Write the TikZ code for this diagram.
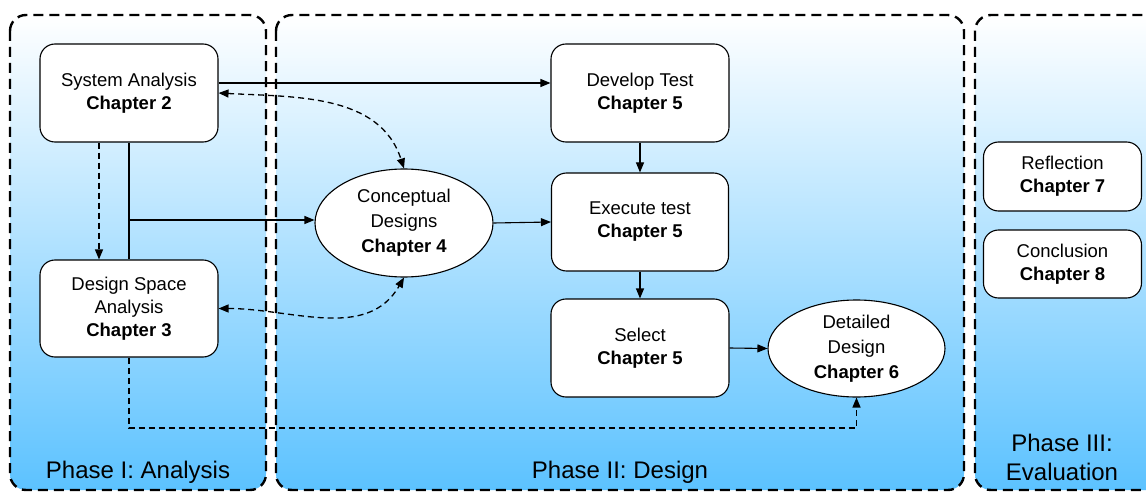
\documentclass[tikz,border=0pt]{standalone}
\usepackage{fontspec}
\setmainfont{Liberation Sans}
\usetikzlibrary{arrows.meta,shapes.geometric,calc}
\definecolor{bluebot}{RGB}{92,194,255}
\definecolor{bluemid}{RGB}{200,232,253}
\tikzset{
  phase/.style={draw=black, line width=2.4pt, dash pattern=on 10pt off 6pt, rounded corners=16pt},
  phasefill/.style={top color=white, middle color=bluemid, bottom color=bluebot, rounded corners=16pt},
  box/.style={draw=black, fill=white, line width=1.1pt, rounded corners=15pt, inner sep=0pt, align=center, font=\fontsize{18.5}{23}\selectfont},
  ell/.style={draw=black, fill=white, line width=1.1pt, ellipse, inner sep=0pt, align=center, font=\fontsize{18.5}{25}\selectfont},
  arr/.style={line width=1.1pt, -{Triangle[length=10pt,width=8pt]}},
  conn/.style={line width=1.1pt},
  darr/.style={line width=1.3pt, dash pattern=on 6pt off 4pt, -{Triangle[length=10pt,width=8pt]}},
  dboth/.style={line width=1.3pt, dash pattern=on 6pt off 4pt, {Triangle[length=10pt,width=8pt]}-{Triangle[length=10pt,width=8pt]}},
  phaselabel/.style={inner sep=0pt, align=center, font=\fontsize{24}{29}\selectfont}
}
\begin{document}
\begin{tikzpicture}[x=1pt,y=-1pt]
\clip (0,0) rectangle (1146,492);
\fill[white] (0,0) rectangle (1146,492);
% phases
\path[phasefill] (10,15) rectangle (266,490);
\draw[phase] (10,15) rectangle (266,490);
\path[phasefill] (276,15) rectangle (964,490);
\draw[phase] (276,15) rectangle (964,490);
\path[phasefill] (975,15) rectangle (1170,490);
\draw[phase] (975,15) rectangle (1170,490);

\node[phaselabel] (p1) at (138,472) {Phase I: Analysis};
\node[phaselabel] (p2) at (620,472) {Phase II: Design};
\node[phaselabel] (p3) at (1062,457) {Phase III:\\Evaluation};

% nodes
\node[box, minimum width=178pt, minimum height=98pt] (sa) at (129,93) {System Analysis\\\textbf{Chapter 2}};
\node[box, minimum width=178pt, minimum height=97pt] (dsa) at (129,308.5) {Design Space\\Analysis\\\textbf{Chapter 3}};
\node[box, minimum width=178pt, minimum height=98pt] (dev) at (640,93) {Develop Test\\\textbf{Chapter 5}};
\node[box, minimum width=177pt, minimum height=98pt] (exe) at (640,222) {Execute test\\\textbf{Chapter 5}};
\node[box, minimum width=178pt, minimum height=98pt] (sel) at (640,348) {Select\\\textbf{Chapter 5}};
\node[ell, minimum width=178pt, minimum height=108pt] (conc) at (404,223) {Conceptual\\Designs\\\textbf{Chapter 4}};
\node[ell, minimum width=177pt, minimum height=97pt] (det) at (856.5,348.5) {Detailed\\Design\\\textbf{Chapter 6}};
\node[box, minimum width=158pt, minimum height=69pt] (refl) at (1062.5,176.5) {Reflection\\\textbf{Chapter 7}};
\node[box, minimum width=158pt, minimum height=68pt] (concl) at (1062.5,264) {Conclusion\\\textbf{Chapter 8}};

% connectors
\draw[arr] ([yshift=10pt]sa.east) -- ([yshift=10pt]dev.west);
\draw[dboth] (sa.east) to[out=-3, in=108] (conc.north);
\draw[darr] ([xshift=-30pt]sa.south) -- ([xshift=-30pt]dsa.north);
\draw[conn] (sa.south) -- (dsa.north);
\coordinate (j) at (129,220);
\draw[arr] (j) -- (j -| conc.west);
\draw[arr] (conc.east) -- (exe.west);
\draw[dboth] (dsa.east) to[out=0, in=-120] (conc.south);
\draw[arr] (dev.south) -- (exe.north);
\draw[arr] (exe.south) -- (sel.north);
\draw[arr] (sel.east) -- (det.west);
\coordinate (c1) at (129,428);
\draw[darr] (dsa.south) -- (c1) -| (det.south);
\end{tikzpicture}
\end{document}
